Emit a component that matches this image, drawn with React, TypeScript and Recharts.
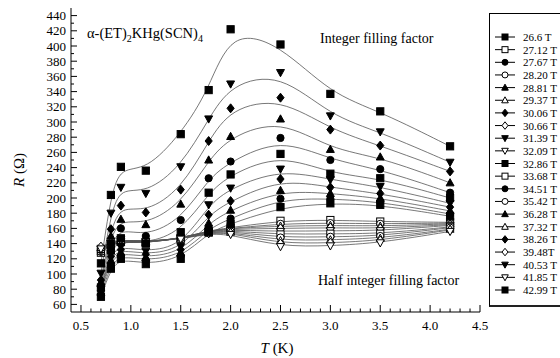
import React from 'react';
import { LineChart, Line, XAxis, YAxis } from 'recharts';

const TEMPS = [0.7, 0.8, 0.9, 1.15, 1.5, 1.78, 2.0, 2.5, 3.0, 3.5, 4.2];

const FIELD_LABELS = [
  '26.6 T', '27.12 T', '27.67 T', '28.20 T', '28.81 T', '29.37 T', '30.06 T',
  '30.66 T', '31.39 T', '32.09 T', '32.86 T', '33.68 T', '34.51 T', '35.42 T',
  '36.28 T', '37.32 T', '38.26 T', '39.48T', '40.53 T', '41.85 T', '42.99 T',
];

const MARKERS = [
  'sq', 'osq', 'ci', 'oci', 'tu', 'otu', 'di', 'odi', 'td', 'otd',
  'sq', 'osq', 'ci', 'oci', 'tu', 'otu', 'di', 'odi', 'td', 'otd', 'sq',
];

// resistance (Ohm) at each temperature of TEMPS
const R_26_60 = [70, 107, 120, 113, 120, 155, 166, 188, 193, 191, 176];
const R_27_12 = [128, 138, 142, 141, 147, 157, 161, 170, 171, 169, 168];
const R_27_67 = [73, 112, 124, 118, 124, 160, 173, 199, 199, 195, 179];
const R_28_20 = [129, 138, 142, 141, 147, 157, 160, 166, 167, 166, 167];
const R_28_81 = [76, 118, 128, 122, 128, 167, 184, 210, 206, 200, 183];
const R_29_37 = [130, 139, 142, 141, 147, 156, 160, 163, 164, 163, 166];
const R_30_06 = [78, 123, 132, 126, 132, 178, 196, 225, 214, 206, 188];
const R_30_66 = [131, 139, 143, 142, 147, 156, 159, 160, 161, 160, 165];
const R_31_39 = [80, 127, 136, 130, 136, 191, 213, 238, 224, 215, 193];
const R_32_09 = [132, 140, 143, 142, 147, 156, 158, 156, 157, 157, 164];
const R_32_86 = [82, 131, 147, 140, 155, 207, 231, 258, 232, 226, 200];
const R_33_68 = [133, 140, 143, 142, 147, 155, 157, 152, 153, 153, 162];
const R_34_51 = [85, 140, 160, 150, 171, 226, 248, 279, 250, 238, 207];
const R_35_42 = [134, 141, 144, 142, 146, 155, 156, 148, 149, 150, 161];
const R_36_28 = [88, 150, 172, 165, 192, 250, 281, 304, 264, 254, 220];
const R_37_32 = [135, 141, 144, 143, 146, 154, 155, 144, 145, 147, 159];
const R_38_26 = [92, 159, 190, 181, 211, 275, 318, 332, 290, 269, 235];
const R_39_48 = [136, 141, 145, 143, 146, 154, 154, 140, 141, 144, 158];
const R_40_53 = [101, 180, 214, 206, 241, 304, 350, 365, 308, 287, 247];
const R_41_85 = [133, 140, 145, 143, 146, 153, 152, 136, 137, 141, 156];
const R_42_99 = [114, 204, 241, 236, 284, 342, 422, 402, 337, 314, 268];

const SERIES_VALUES = [
  R_26_60, R_27_12, R_27_67, R_28_20, R_28_81, R_29_37, R_30_06, R_30_66,
  R_31_39, R_32_09, R_32_86, R_33_68, R_34_51, R_35_42, R_36_28, R_37_32,
  R_38_26, R_39_48, R_40_53, R_41_85, R_42_99,
];

const X_MAJOR = [0.5, 1.0, 1.5, 2.0, 2.5, 3.0, 3.5, 4.0, 4.5];
const Y_MAJOR = [60, 80, 100, 120, 140, 160, 180, 200, 220, 240, 260, 280, 300, 320, 340, 360, 380, 400, 420, 440];

const X_TICKS: number[] = [];
for (let i = 5; i <= 45; i++) X_TICKS.push(Math.round(i) / 10);
const Y_TICKS: number[] = [];
for (let v = 60; v <= 440; v += 10) Y_TICKS.push(v);

const FONT = '"Liberation Serif", "Times New Roman", serif';

const data = TEMPS.map((t, i) => {
  const row: any = { T: t };
  SERIES_VALUES.forEach((arr, s) => {
    row['s' + s] = arr[i];
  });
  return row;
});

const isXMajor = (v: number) => X_MAJOR.some((m) => Math.abs(m - v) < 1e-6);
const isYMajor = (v: number) => Y_MAJOR.indexOf(v) >= 0;

function Marker({ kind, cx, cy, s = 3.6 }: { kind: string; cx: number; cy: number; s?: number }) {
  const open = kind.startsWith('o');
  const k = open ? kind.slice(1) : kind;
  const fill = open ? '#fff' : '#000';
  const common = { fill, stroke: '#000', strokeWidth: 1 };
  if (k === 'sq') return <rect x={cx - s} y={cy - s} width={2 * s} height={2 * s} {...common} />;
  if (k === 'ci') return <circle cx={cx} cy={cy} r={s} {...common} />;
  if (k === 'tu')
    return <polygon points={`${cx},${cy - s * 1.15} ${cx + s * 1.1},${cy + s * 0.85} ${cx - s * 1.1},${cy + s * 0.85}`} {...common} />;
  if (k === 'td')
    return <polygon points={`${cx},${cy + s * 1.15} ${cx + s * 1.1},${cy - s * 0.85} ${cx - s * 1.1},${cy - s * 0.85}`} {...common} />;
  return <polygon points={`${cx},${cy - s * 1.25} ${cx + s},${cy} ${cx},${cy + s * 1.25} ${cx - s},${cy}`} {...common} />;
}

const XTickBottom = (props: any) => {
  const { x, y, payload } = props;
  const v = payload.value;
  const major = isXMajor(v);
  return (
    <g>
      <line x1={x} x2={x} y1={y} y2={y - (major ? 7 : 3.5)} stroke="#000" strokeWidth={1} />
      {major && (
        <text x={x} y={y + 18} textAnchor="middle" fontSize={13} fontFamily={FONT} fill="#000">
          {v.toFixed(1)}
        </text>
      )}
    </g>
  );
};

const XTickTop = (props: any) => {
  const { x, y, payload } = props;
  const major = isXMajor(payload.value);
  return <line x1={x} x2={x} y1={y} y2={y + (major ? 7 : 3.5)} stroke="#000" strokeWidth={1} />;
};

const YTickLeft = (props: any) => {
  const { x, y, payload } = props;
  const v = payload.value;
  const major = isYMajor(v);
  return (
    <g>
      <line x1={x} x2={x + (major ? 6 : 3)} y1={y} y2={y} stroke="#000" strokeWidth={1} />
      {major && (
        <text x={x - 5} y={y + 4.5} textAnchor="end" fontSize={13} fontFamily={FONT} fill="#000">
          {v}
        </text>
      )}
    </g>
  );
};

const YTickRight = (props: any) => {
  const { x, y, payload } = props;
  const major = isYMajor(payload.value);
  return <line x1={x} x2={x - (major ? 6 : 3)} y1={y} y2={y} stroke="#000" strokeWidth={1} />;
};

function Legend() {
  const rowH = 12.65;
  return (
    <div
      style={{
        position: 'absolute',
        left: 489,
        top: 13,
        width: 71,
        height: 291,
        borderLeft: '1px solid #000',
        borderTop: '1px solid #000',
        borderBottom: '2px solid #222',
        background: '#fff',
      }}
    >
      <svg width={71} height={291} style={{ display: 'block' }}>
        {FIELD_LABELS.map((lab, i) => {
          const cy = 23 + i * rowH;
          return (
            <g key={lab}>
              <line x1={5} x2={25} y1={cy} y2={cy} stroke="#000" strokeWidth={1} />
              <Marker kind={MARKERS[i]} cx={15} cy={cy} s={3} />
              <text x={33} y={cy + 4} fontSize={11} fontFamily={FONT} fill="#000">
                {lab}
              </text>
            </g>
          );
        })}
      </svg>
    </div>
  );
}

export default function App() {
  const order = [1, 3, 5, 7, 9, 11, 13, 15, 17, 19, 0, 2, 4, 6, 8, 10, 12, 14, 16, 18, 20];
  return (
    <div style={{ position: 'absolute', left: 0, top: 0, width: 560, height: 358, overflow: 'hidden', background: '#fff' }}>
      <LineChart width={560} height={358} data={data} margin={{ top: 8, right: 80, bottom: 6, left: 21 }}>
        <XAxis
          dataKey="T"
          type="number"
          domain={[0.4, 4.5]}
          ticks={X_TICKS}
          interval={0}
          tickSize={0}
          tickMargin={0}
          tickLine={false}
          axisLine={{ stroke: '#000', strokeWidth: 1 }}
          tick={XTickBottom}
          height={40}
        />
        <XAxis
          xAxisId="top"
          orientation="top"
          type="number"
          domain={[0.4, 4.5]}
          ticks={X_TICKS}
          interval={0}
          tickSize={0}
          tickMargin={0}
          tickLine={false}
          axisLine={{ stroke: '#000', strokeWidth: 1 }}
          tick={XTickTop}
          height={0}
        />
        <YAxis
          type="number"
          domain={[50, 450]}
          ticks={Y_TICKS}
          interval={0}
          tickSize={0}
          tickMargin={0}
          tickLine={false}
          axisLine={{ stroke: '#000', strokeWidth: 1 }}
          tick={YTickLeft}
          width={50}
        />
        <YAxis
          yAxisId="right"
          orientation="right"
          type="number"
          domain={[50, 450]}
          ticks={Y_TICKS}
          interval={0}
          tickSize={0}
          tickMargin={0}
          tickLine={false}
          axisLine={{ stroke: '#000', strokeWidth: 1 }}
          tick={YTickRight}
          width={0}
        />
        {order.map((s) => (
          <Line
            key={'s' + s}
            dataKey={'s' + s}
            type="basis"
            stroke="#555"
            strokeWidth={0.8}
            isAnimationActive={false}
            activeDot={false}
            dot={(p: any) => (
              <Marker key={`m${s}-${p.index}`} kind={MARKERS[s]} cx={p.cx} cy={p.cy} s={3.6} />
            )}
          />
        ))}
      </LineChart>
      <svg width={560} height={358} style={{ position: 'absolute', left: 0, top: 0, pointerEvents: 'none' }}>
        <text x={87} y={38} fontSize={14.5} fontFamily={FONT} fill="#000">
          α-(ET)
          <tspan fontSize={10} dy={4}>2</tspan>
          <tspan dy={-4}>KHg(SCN)</tspan>
          <tspan fontSize={10} dy={4}>4</tspan>
        </text>
        <text x={320} y={43} fontSize={14} fontFamily={FONT} fill="#000">
          Integer filling factor
        </text>
        <text x={318} y={285} fontSize={14} fontFamily={FONT} fill="#000">
          Half integer filling factor
        </text>
        <text
          x={24}
          y={170}
          transform="rotate(-90 24 170)"
          textAnchor="middle"
          fontSize={15}
          fontFamily={FONT}
          fill="#000"
        >
          <tspan fontStyle="italic">R</tspan> (Ω)
        </text>
        <text x={277} y={353} textAnchor="middle" fontSize={15} fontFamily={FONT} fill="#000">
          <tspan fontStyle="italic">T</tspan> (K)
        </text>
      </svg>
      <Legend />
    </div>
  );
}
